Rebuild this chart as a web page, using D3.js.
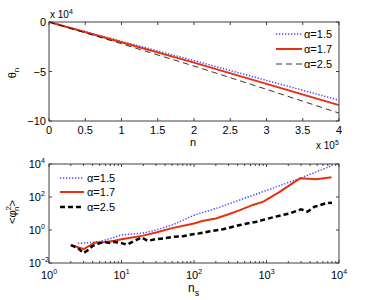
<!DOCTYPE html>
<html>
<head>
<meta charset="utf-8">
<script src="https://cdn.jsdelivr.net/npm/d3@7"></script>
<style>
  body { margin: 0; background: #fff; }
  svg { font-family: "Liberation Sans", Arial, sans-serif; }
</style>
</head>
<body>
<script>
// top panel: theta_n vs n
const nVals = [0, 100000, 200000, 300000, 400000];
const thetaA15 = [0, -19500, -39000, -59000, -79000];
const thetaA17 = [0, -20500, -41000, -62500, -84000];
const thetaA25 = [0, -22000, -44500, -68000, -92000];
const topXTicks = [0, 50000, 100000, 150000, 200000, 250000, 300000, 350000, 400000];
const topYTicks = [0, -50000, -100000];

// bottom panel: <phi^2_n> vs n_s
const nsA15 = [2.5, 3, 4, 5, 7, 10, 19, 30, 50, 100, 200, 430, 1000, 2900, 5000, 8000];
const phiA15 = [0.16, 0.16, 0.18, 0.2, 0.3, 0.5, 0.63, 1.0, 2.0, 7.8, 20, 66, 250, 1350, 3500, 8000];
const nsA17 = [2, 3, 4.3, 6, 8, 10, 14, 19, 30, 50, 80, 100, 130, 200, 300, 430, 650, 905, 1500, 2900, 4900, 7900];
const phiA17 = [0.123, 0.07, 0.17, 0.19, 0.22, 0.275, 0.35, 0.44, 0.7, 1.3, 2.0, 2.5, 3.5, 5.0, 9, 16, 33, 52, 200, 1350, 1175, 1550];
const nsA25 = [2, 2.5, 3, 3.5, 4, 5, 6, 7, 8, 10, 12, 15, 19, 23, 30, 40, 50, 70, 85, 120, 160, 250, 430, 730, 1230, 2100, 3000, 3700, 4600, 6600, 8000];
const phiA25 = [0.12, 0.08, 0.04, 0.063, 0.11, 0.16, 0.18, 0.16, 0.19, 0.16, 0.13, 0.22, 0.35, 0.22, 0.28, 0.32, 0.38, 0.42, 0.5, 0.63, 0.8, 1.1, 2.0, 3.2, 5.9, 10.2, 17.8, 12.9, 25.7, 41.7, 44.7];
const botXTicks = [1, 10, 100, 1000, 10000];
const botYTicks = [0.01, 1, 100, 10000];
const legendLabels = ['α=1.5', 'α=1.7', 'α=2.5'];

const W = 374, H = 300;
const axisColor = '#404040';
const blue = '#4646ff', red = '#e8300e', black = '#000';

const svg = d3.select('body').append('svg').attr('width', W).attr('height', H);

const left = 49, right = 339;

// ---------- top ----------
const x1 = d3.scaleLinear().domain([0, 400000]).range([left, right]);
const y1 = d3.scaleLinear().domain([-100000, 0]).range([121, 22]);
const g1 = svg.append('g');

const line1 = d3.line().x((d) => x1(d[0])).y((d) => y1(d[1]));
const topSeries = [
  { ys: thetaA15, color: blue, w: 1.5, dash: '1.3,1.7' },
  { ys: thetaA17, color: red, w: 2, dash: null },
  { ys: thetaA25, color: black, w: 0.8, dash: '6,4' },
];
topSeries.forEach((s) => {
  g1.append('path')
    .datum(nVals.map((n, i) => [n, s.ys[i]]))
    .attr('d', line1)
    .attr('fill', 'none')
    .attr('stroke', s.color)
    .attr('stroke-width', s.w)
    .attr('stroke-dasharray', s.dash);
});

g1.append('rect')
  .attr('x', left).attr('y', 22).attr('width', right - left).attr('height', 99)
  .attr('fill', 'none').attr('stroke', axisColor).attr('stroke-width', 1);

topXTicks.forEach((t) => {
  const x = x1(t);
  g1.append('line').attr('x1', x).attr('x2', x).attr('y1', 121).attr('y2', 118).attr('stroke', axisColor);
  g1.append('line').attr('x1', x).attr('x2', x).attr('y1', 22).attr('y2', 25).attr('stroke', axisColor);
  g1.append('text').attr('x', x).attr('y', 134).attr('text-anchor', 'middle')
    .attr('font-size', 11).text(d3.format('~g')(t / 100000));
});
topYTicks.forEach((t) => {
  const y = y1(t);
  g1.append('line').attr('x1', left).attr('x2', left + 3).attr('y1', y).attr('y2', y).attr('stroke', axisColor);
  g1.append('line').attr('x1', right).attr('x2', right - 3).attr('y1', y).attr('y2', y).attr('stroke', axisColor);
  g1.append('text').attr('x', left - 3).attr('y', y + 4).attr('text-anchor', 'end')
    .attr('font-size', 11).text(t === 0 ? '0' : '\u2212' + (-t / 10000));
});

// exponent labels
const e1 = g1.append('text').attr('x', 50).attr('y', 18).attr('font-size', 10);
e1.append('tspan').text('x 10');
e1.append('tspan').attr('dy', -4).attr('font-size', 7).text('4');
const e2 = g1.append('text').attr('x', 316).attr('y', 149).attr('font-size', 10);
e2.append('tspan').text('x 10');
e2.append('tspan').attr('dy', -4).attr('font-size', 7).text('5');

g1.append('text').attr('x', 193).attr('y', 146).attr('text-anchor', 'middle').attr('font-size', 11).text('n');
const yl1 = g1.append('text').attr('transform', 'translate(16,73) rotate(-90)')
  .attr('text-anchor', 'middle').attr('font-size', 11);
yl1.append('tspan').text('θ');
yl1.append('tspan').attr('dy', 3).attr('font-size', 8).text('n');

// legend top
const legTopY = [34, 49, 64];
topSeries.forEach((s, i) => {
  g1.append('line').attr('x1', 276).attr('x2', 302).attr('y1', legTopY[i]).attr('y2', legTopY[i])
    .attr('stroke', s.color).attr('stroke-width', s.w).attr('stroke-dasharray', s.dash);
  g1.append('text').attr('x', 304).attr('y', legTopY[i] + 4).attr('font-size', 11).text(legendLabels[i]);
});

// ---------- bottom ----------
const x2 = d3.scaleLog().domain([1, 10000]).range([left, right]);
const y2 = d3.scaleLog().domain([0.01, 10000]).range([263, 164]);
const g2 = svg.append('g');

const line2 = d3.line().x((d) => x2(d[0])).y((d) => y2(d[1]));
const botSeries = [
  { xs: nsA15, ys: phiA15, color: blue, w: 1.5, dash: '1.3,1.7' },
  { xs: nsA17, ys: phiA17, color: red, w: 2, dash: null },
  { xs: nsA25, ys: phiA25, color: black, w: 2.5, dash: '5,3' },
];
botSeries.forEach((s) => {
  g2.append('path')
    .datum(s.xs.map((n, i) => [n, s.ys[i]]))
    .attr('d', line2)
    .attr('fill', 'none')
    .attr('stroke', s.color)
    .attr('stroke-width', s.w)
    .attr('stroke-dasharray', s.dash);
});

g2.append('rect')
  .attr('x', left).attr('y', 164).attr('width', right - left).attr('height', 99)
  .attr('fill', 'none').attr('stroke', axisColor).attr('stroke-width', 1);

// minor ticks for log x
x2.ticks().forEach((t) => {
  const x = x2(t);
  const major = botXTicks.includes(t);
  const len = major ? 3 : 2;
  g2.append('line').attr('x1', x).attr('x2', x).attr('y1', 263).attr('y2', 263 - len).attr('stroke', axisColor);
  g2.append('line').attr('x1', x).attr('x2', x).attr('y1', 164).attr('y2', 164 + len).attr('stroke', axisColor);
});
botXTicks.forEach((t) => {
  const x = x2(t);
  const tx = g2.append('text').attr('x', x).attr('y', 279).attr('text-anchor', 'middle').attr('font-size', 11);
  tx.append('tspan').text('10');
  tx.append('tspan').attr('dy', -5).attr('font-size', 7).text(Math.round(Math.log10(t)));
});
botYTicks.forEach((t) => {
  const y = y2(t);
  g2.append('line').attr('x1', left).attr('x2', left + 3).attr('y1', y).attr('y2', y).attr('stroke', axisColor);
  g2.append('line').attr('x1', right).attr('x2', right - 3).attr('y1', y).attr('y2', y).attr('stroke', axisColor);
  const ty = g2.append('text').attr('x', left - 8).attr('y', y + 4).attr('text-anchor', 'end').attr('font-size', 11);
  ty.append('tspan').text('10');
  ty.append('tspan').attr('x', left - 8).attr('dy', -5).attr('text-anchor', 'start').attr('font-size', 7)
    .text(String(Math.round(Math.log10(t))).replace('-', '\u2212'));
});

const xl2 = g2.append('text').attr('x', 188).attr('y', 292).attr('font-size', 12);
xl2.append('tspan').text('n');
xl2.append('tspan').attr('dy', 4).attr('font-size', 9).text('s');

const yl2 = g2.append('text').attr('transform', 'translate(16,212) rotate(-90)')
  .attr('text-anchor', 'middle').attr('font-size', 11);
yl2.append('tspan').text('<φ');
yl2.append('tspan').attr('dy', -5).attr('font-size', 8).text('2');
yl2.append('tspan').attr('dx', -5).attr('dy', 8).attr('font-size', 8).text('n');
yl2.append('tspan').attr('dy', -3).text('>');

// legend bottom
const legBotY = [178, 192, 207];
botSeries.forEach((s, i) => {
  g2.append('line').attr('x1', 60).attr('x2', 84).attr('y1', legBotY[i]).attr('y2', legBotY[i])
    .attr('stroke', s.color).attr('stroke-width', s.w).attr('stroke-dasharray', s.dash);
  g2.append('text').attr('x', 87).attr('y', legBotY[i] + 4).attr('font-size', 11).text(legendLabels[i]);
});
</script>
</body>
</html>
